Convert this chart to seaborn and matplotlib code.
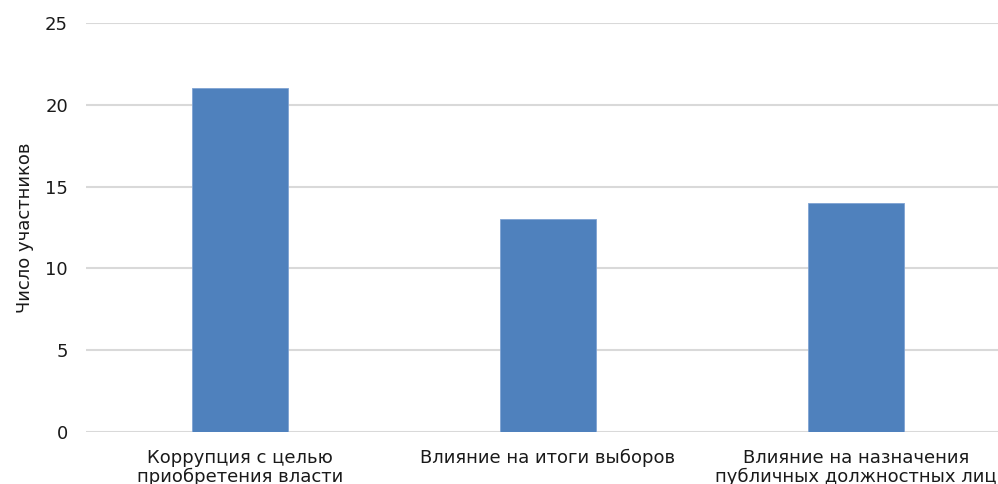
import matplotlib
matplotlib.use("Agg")
import matplotlib.pyplot as plt
import seaborn as sns
import pandas as pd

categories = ["Коррупция с целью\nприобретения власти",
              "Влияние на итоги выборов",
              "Влияние на назначения\nпубличных должностных лиц"]
values = [21, 13, 14]
yticks = [0, 5, 10, 15, 20, 25]

sns.set_theme(style="white")
plt.rcParams['font.family'] = ['DejaVu Sans']

df = pd.DataFrame({"cat": categories, "val": values})

fig = plt.figure(figsize=(9.98, 4.84), dpi=100)
ax = fig.add_axes([86/998, 52/484, 924/998, 409/484])
sns.barplot(data=df, x="cat", y="val", color="#4F81BD", width=0.31,
            saturation=1, ax=ax, edgecolor="#7FA3D3", linewidth=0.6, zorder=3)
ax.set_xlim(-0.5, 2.5)
ax.set_ylim(0, 25)
ax.set_yticks(yticks)
ax.set_yticklabels([str(t) for t in yticks])
ax.yaxis.grid(True, color="#D9D9D9", linewidth=1.5, zorder=0)
ax.set_axisbelow(True)
for s in ax.spines.values():
    s.set_visible(False)
ax.tick_params(axis="both", length=0, labelsize=13, colors="#1a1a1a")
ax.tick_params(axis="y", pad=13)
ax.tick_params(axis="x", pad=12)
ax.set_xlabel("")
ax.set_ylabel("Число участников", fontsize=13, labelpad=8, color="#1a1a1a")
for lab in ax.get_xticklabels():
    lab.set_linespacing(1.05)
fig.savefig("out.png", dpi=100)
